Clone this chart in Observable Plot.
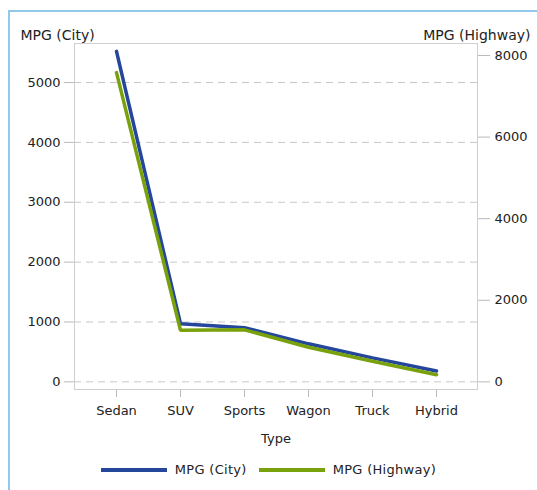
<!DOCTYPE html>
<html>
<head>
<meta charset="utf-8">
<script src="https://cdn.jsdelivr.net/npm/d3@7"></script>
<script src="https://cdn.jsdelivr.net/npm/@observablehq/plot@0.6"></script>
<style>
  html, body { margin: 0; padding: 0; background: #fff; }
  body { width: 537px; height: 490px; position: relative; overflow: hidden; font-family: "DejaVu Sans", sans-serif; }
  #border { position: absolute; left: 8px; top: 10px; width: 600px; height: 600px; border-left: 2px solid #92c8ea; border-top: 2px solid #92c8ea; box-sizing: border-box; }
  #chart { position: absolute; left: 0; top: 0; }
  #legend { position: absolute; left: 0; top: 462px; width: 537px; display: flex; justify-content: center; align-items: center; font-size: 13px; color: #222; letter-spacing: 0.3px; }
  .item { display: flex; align-items: center; margin: 0 6px; }
  .swatch { width: 66px; height: 4px; margin-right: 8px; }
</style>
</head>
<body>
<div id="border"></div>
<div id="chart"></div>
<div id="legend"></div>
<script>
const types = ["Sedan", "SUV", "Sports", "Wagon", "Truck", "Hybrid"];
const mpgCity = [5520, 970, 905, 635, 400, 180];
const mpgHighway = [7580, 1265, 1275, 850, 505, 175];
const leftTicks = [0, 1000, 2000, 3000, 4000, 5000];
const rightTicks = [0, 2000, 4000, 6000, 8000];
const seriesNames = ["MPG (City)", "MPG (Highway)"];
const colors = ["#24479b", "#78a10c"];

const leftDomain = [-128, 5652];
const rightDomain = [-187, 8294];
const toLeft = d3.scaleLinear(rightDomain, leftDomain);

const rows = [];
types.forEach((t, i) => {
  rows.push({type: t, series: seriesNames[0], v: mpgCity[i]});
});
types.forEach((t, i) => {
  rows.push({type: t, series: seriesNames[1], v: toLeft(mpgHighway[i])});
});

const font = "DejaVu Sans, sans-serif";
const plot = Plot.plot({
  width: 537,
  height: 450,
  marginTop: 43,
  marginBottom: 61,
  marginLeft: 74,
  marginRight: 60,
  style: {fontFamily: font, fontSize: "13px", color: "#222", background: "transparent"},
  x: {type: "point", domain: types, padding: 0.64, label: null},
  y: {domain: leftDomain, label: null},
  color: {domain: seriesNames, range: colors},
  marks: [
    Plot.ruleY(leftTicks, {stroke: "#c8c8c8", strokeDasharray: "7,5"}),
    Plot.frame({stroke: "#cfcfcf"}),
    Plot.axisY(leftTicks, {anchor: "left", tickSize: 10, tickPadding: 4, stroke: "#bbb", fill: "#222", label: null,
      tickFormat: d => String(d)}),
    Plot.axisY(rightTicks.map(toLeft), {anchor: "right", tickSize: 12, tickPadding: 5, stroke: "#bbb", fill: "#222", label: null,
      tickFormat: d => String(Math.round(toLeft.invert(d)))}),
    Plot.axisX({tickSize: 8, tickPadding: 8, stroke: "#bbb", fill: "#222", label: null}),
    Plot.line(rows, {x: "type", y: "v", stroke: "series", z: "series", strokeWidth: 3.5, strokeLinejoin: "miter"}),
    Plot.text([seriesNames[0]], {frameAnchor: "top-left", text: d => d, dx: -54, dy: -13, textAnchor: "start", fontSize: 14, fill: "#222"}),
    Plot.text([seriesNames[1]], {frameAnchor: "top-right", text: d => d, dx: 53, dy: -13, textAnchor: "end", fontSize: 14, fill: "#222"}),
    Plot.text(["Type"], {frameAnchor: "bottom", text: d => d, dy: 53, fontSize: 13, fill: "#222"})
  ]
});
document.getElementById("chart").appendChild(plot);

const legend = document.getElementById("legend");
seriesNames.forEach((name, i) => {
  const item = document.createElement("div");
  item.className = "item";
  const sw = document.createElement("div");
  sw.className = "swatch";
  sw.style.background = colors[i];
  const label = document.createElement("span");
  label.textContent = name;
  item.appendChild(sw);
  item.appendChild(label);
  legend.appendChild(item);
});
</script>
</body>
</html>
